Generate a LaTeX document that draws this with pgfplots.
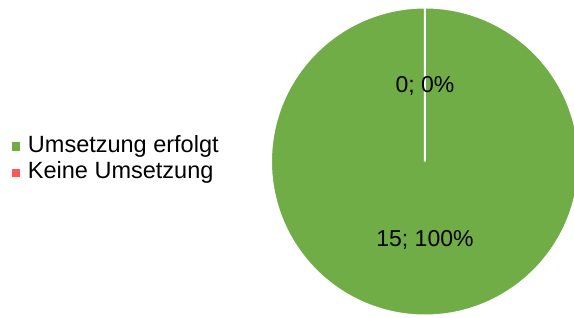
\documentclass[border=0pt]{standalone}
\usepackage{fontspec}
\setmainfont{Liberation Sans}
\usepackage{pgfplots}
\usepackage{pgfplotstable}
\pgfplotsset{compat=1.18}
\definecolor{pgreen}{HTML}{70AD47}
\definecolor{pred}{HTML}{FF5757}
\newcommand{\lblfont}{\fontsize{23bp}{27bp}\selectfont}
\newcommand{\legfont}{\fontsize{23.5bp}{27bp}\selectfont}
\pgfplotstableread{
label value
erfolgt 15
keine 0
}\piedata
\pgfplotstablegetelem{0}{value}\of\piedata \let\vA\pgfplotsretval
\pgfplotstablegetelem{1}{value}\of\piedata \let\vB\pgfplotsretval
\pgfmathsetmacro\tot{\vA+\vB}
\pgfmathsetmacro\aEnd{90-360*\vA/\tot}
\pgfmathsetmacro\bEnd{\aEnd-360*\vB/\tot}
\pgfmathsetmacro\aMid{(90+\aEnd)/2}
\pgfmathsetmacro\bMid{(\aEnd+\bEnd)/2}
\pgfmathtruncatemacro\pA{round(100*\vA/\tot)}
\pgfmathtruncatemacro\pB{round(100*\vB/\tot)}
\pgfmathtruncatemacro\iA{\vA}
\pgfmathtruncatemacro\iB{\vB}
\begin{document}%
\begin{tikzpicture}
\begin{axis}[
  name=pie,
  width=308bp, height=308bp, scale only axis,
  xmin=-1, xmax=1, ymin=-1, ymax=1,
  hide axis, clip=false,
  legend style={at={(-0.841,0.507)}, anchor=west, draw=none, fill=none,
    inner sep=0pt, outer sep=0pt, row sep=4.6bp, column sep=0bp,
    font=\legfont,
    nodes={inner sep=0pt, outer sep=0pt, text height=17bp, text depth=5bp}},
  legend cell align=left,
  legend image code/.code={\fill[draw=none,#1] (0bp,-4.5bp) rectangle (8.5bp,4.1bp);
    \path[draw=none,fill=none] (0bp,0bp) -- (16bp,0bp);},
]
\addlegendimage{fill=pgreen}
\addlegendentry{Umsetzung erfolgt}
\addlegendimage{fill=pred}
\addlegendentry{Keine Umsetzung}
\coordinate (c) at (axis cs:0,0);
% slice A
\fill[pgreen, draw=white, line width=2bp]
  (axis cs:0,0) -- (axis cs:{cos(90)},{sin(90)}) arc[start angle=90, end angle=\aEnd, radius=154bp] -- cycle;
% slice B (zero width: only its white border shows)
\fill[pred, draw=white, line width=2bp]
  (axis cs:0,0) -- (axis cs:{cos(\aEnd)},{sin(\aEnd)}) arc[start angle=\aEnd, end angle=\bEnd, radius=154bp] -- cycle;
\node[font=\lblfont, anchor=base, yshift=-8.3bp, inner sep=0pt] at (axis cs:{0.5*cos(\aMid)},{0.5*sin(\aMid)}) {\iA; \pA\%};
\node[font=\lblfont, anchor=base, yshift=-8.3bp, inner sep=0pt] at (axis cs:{0.5*cos(\bMid)},{0.5*sin(\bMid)}) {\iB; \pB\%};
\end{axis}
\pgfresetboundingbox
\useasboundingbox ([shift={(-425bp,-156.5bp)}]c) rectangle ([shift={(149bp,161.5bp)}]c);
\end{tikzpicture}%
\end{document}
